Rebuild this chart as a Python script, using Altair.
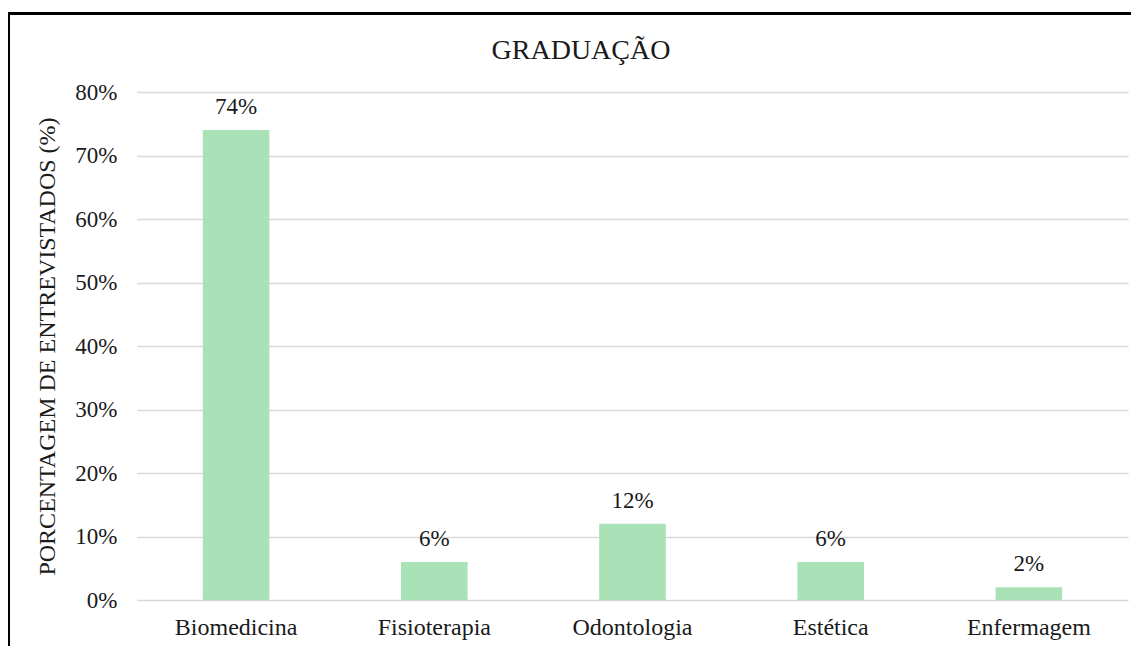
import altair as alt
import pandas as pd

categories = ["Biomedicina", "Fisioterapia", "Odontologia", "Estética", "Enfermagem"]
values = [0.74, 0.06, 0.12, 0.06, 0.02]
labels = ["74%", "6%", "12%", "6%", "2%"]
y_ticks = [0, 0.1, 0.2, 0.3, 0.4, 0.5, 0.6, 0.7, 0.8]
chart_title = "GRADUAÇÃO"
y_title = "PORCENTAGEM DE ENTREVISTADOS (%)"

FONT = "Liberation Serif"
TXT = "#1a1a1a"

df = pd.DataFrame({"cat": categories, "val": values, "lab": labels})
one = pd.DataFrame({"t": [chart_title]})

x_enc = alt.X(
    "cat:N",
    sort=categories,
    scale=alt.Scale(paddingInner=0.664, paddingOuter=0.332),
    axis=alt.Axis(
        title=None, labelAngle=0, domain=False, ticks=False, labelPadding=15,
        labelFont=FONT, labelFontSize=24, labelColor=TXT,
    ),
)
y_enc = alt.Y(
    "val:Q",
    scale=alt.Scale(domain=[0, 0.8], nice=False),
    axis=alt.Axis(
        values=y_ticks, format=".0%", grid=True, gridColor="#d9d9d9", gridWidth=1.5,
        domain=False, ticks=False, labelPadding=20,
        labelFont=FONT, labelFontSize=23, labelColor=TXT,
        title=y_title, titleFont=FONT, titleFontSize=24, titleFontWeight="normal",
        titleColor=TXT, titleX=-78,
    ),
)

bars = alt.Chart(df).mark_bar(color="#a8e2b6").encode(x=x_enc, y=y_enc)
text = alt.Chart(df).mark_text(
    font=FONT, fontSize=23, color=TXT, baseline="alphabetic", dy=-16
).encode(x=alt.X("cat:N", sort=categories), y="val:Q", text="lab:N")

title = alt.Chart(one).mark_text(
    font=FONT, fontSize=28, color=TXT, baseline="alphabetic", align="center"
).encode(x=alt.value(444), y=alt.value(-33), text="t:N")

top_rule = alt.Chart(one).mark_rule(color="black", strokeWidth=3).encode(
    x=alt.value(-130), x2=alt.value(1010), y=alt.value(-78.5)
)
left_rule = alt.Chart(one).mark_rule(color="black", strokeWidth=3).encode(
    x=alt.value(-128.5), y=alt.value(-80), y2=alt.value(570)
)

chart = alt.layer(bars, text, title, top_rule, left_rule).properties(
    width=991, height=508,
    autosize=alt.AutoSizeParams(type="none"),
    padding={"left": 129, "top": 84, "right": 3, "bottom": 46},
).configure_view(stroke=None)

chart.save("out.html", embed_options={"renderer": "svg", "actions": False})
